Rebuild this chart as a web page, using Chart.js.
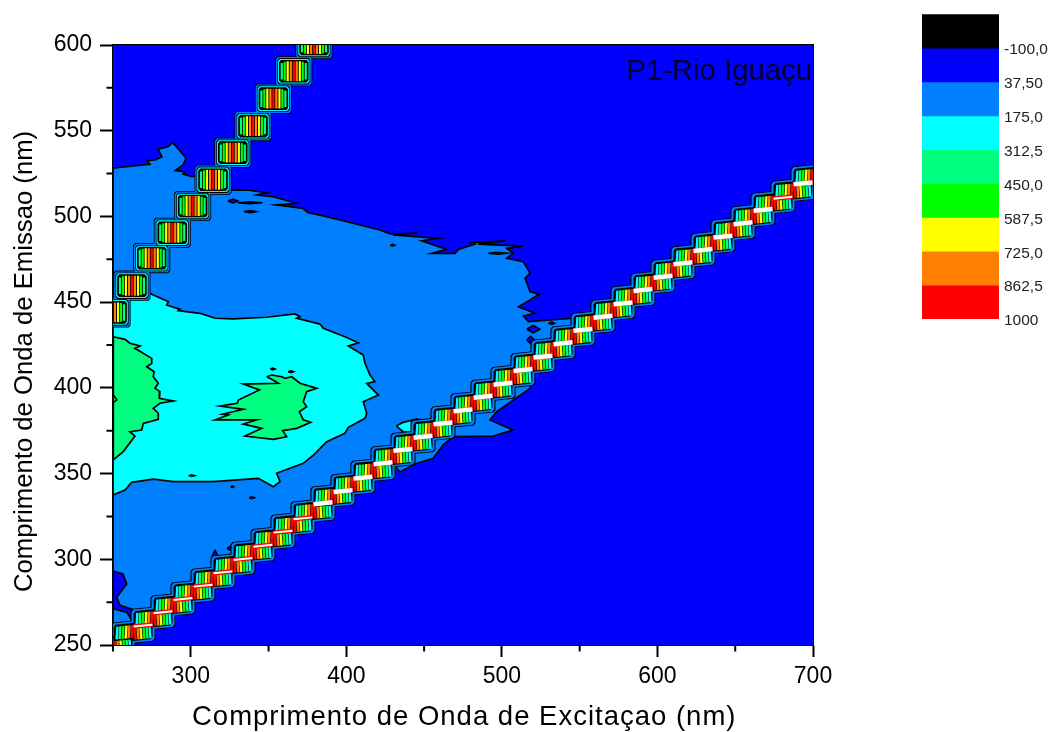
<!DOCTYPE html>
<html>
<head>
<meta charset="utf-8">
<title>P1-Rio Iguaçu</title>
<script src="https://cdn.jsdelivr.net/npm/chart.js@4"></script>
<style>
    body { margin: 0; background: #fff; }
    canvas { position: absolute; }
</style>
</head>
<body>
<canvas id="mapChart" width="1054" height="732" style="left:0;top:0"></canvas>
<canvas id="scaleChart" width="154" height="340" style="left:900px;top:0"></canvas>
<script>
// colour levels of the map, lowest first
const levelLabels = ['', '-100,0', '37,50', '175,0', '312,5', '450,0', '587,5', '725,0', '862,5', '1000'];
const levelColors = ['#000000', '#0000ff', '#0080ff', '#00ffff', '#00ff80', '#00ff00', '#ffff00', '#ff8000', '#ff0000'];

const excitationTicksMinor = [250, 350, 450, 550, 650];
const emissionTicksMinor = [275, 325, 375, 425, 475, 525, 575];

// contour lines: [excitation nm, emission nm]
const contour37 = [[250,528.1],[262.9,529.4],[273.8,530.4],[271.9,532.5],[277,532.9],[281.5,534.8],[278.9,539.2],[285.4,540.7],[288.4,543],[291.8,539.7],[296.9,533.9],[295,530],[289.9,526.7],[296.3,526.1],[295,524.7],[300.8,523.2],[305.9,524.2],[326.3,515.4],[336,515.4],[348.8,513.8],[342.4,512.5],[352.9,511.5],[368.1,507.7],[355.2,506.7],[372.1,504.7],[375.4,502.2],[383.1,500.8],[395.9,497.9],[421.6,492.1],[428.1,489.8],[445.2,490.2],[430,489.2],[459.1,487.2],[448.5,485.8],[464.5,480.8],[454.9,478.5],[469.9,478.5],[472,480.8],[482.7,483.9],[480.6,484.7],[502,485.8],[484.8,483.9],[513.4,482.7],[503.1,481.4],[507.3,478.5],[503.1,475.6],[513.8,473.6],[518.1,466.8],[514.9,463.9],[518.1,456.1],[524.1,454.7],[518.1,451.2],[510.6,447.3],[521.3,443.5],[513.8,441.9],[517,438.6],[545.9,440.6],[556.7,436.7],[518.1,411.6],[518.1,399.7],[496.7,386.1],[492.4,381.3],[507,375.4],[494.5,371.9],[468.8,371.5],[462.3,366.7],[455.9,358.9],[444.2,355.6],[434.5,350.9],[428,357.9],[269.3,261.7],[257.7,254.7],[250,250]];
const contour175 = [[250,451.2],[267.4,458.2],[275.9,454.2],[285.6,450.3],[284.5,448.3],[293.1,445.8],[292,445],[305.9,443.5],[315.6,440.6],[327.3,440.2],[348.8,441.2],[367,443.1],[370.2,441.5],[368.1,440.6],[383.1,437.2],[385.2,434.7],[399.1,429.8],[407.7,426.3],[401.3,424.4],[410.9,419.2],[412,414.3],[415.2,407.5],[418.4,403.6],[413.1,402.6],[420.6,395.8],[410.9,391.9],[413.1,385.1],[412,382.2],[401.3,377],[399.1,373.5],[387.4,368.6],[378.8,360.8],[372.3,356],[355.2,350.2],[357.4,345.3],[353.1,342.3],[343.4,347.2],[314.5,345.3],[288.8,345.3],[275.9,346.7],[262,344.9],[257.7,340.4],[250,337.5]];
const contour312Left = [[250.2,429.8],[257.7,428.3],[260.9,426],[267.4,424.4],[264.1,423.1],[274.9,417.2],[274.9,414.3],[271.7,412.3],[276.4,409.4],[275.9,406.5],[279.1,402.7],[277,399.7],[280.2,397.8],[279.8,393.9],[288.8,392.3],[280.2,391],[275.9,388.1],[279.1,385.2],[279.1,381.7],[269.5,379.3],[268.4,375.4],[260.9,374.4],[264.1,371.9],[256.6,362.8],[250,357.9]];
const contour312Mid = [[348.8,406.5],[352,407.5],[358.5,406.5],[360.6,405.6],[364.9,406.5],[370.2,402.7],[381,399.7],[374.5,397.8],[372.3,391.9],[374.5,389],[369.8,386.1],[372.3,381.3],[377.1,379.9],[368.1,376.4],[359.1,375],[361.6,371.5],[353.1,370],[334.9,371.9],[345.6,376.4],[333.8,378.9],[342.4,381.3],[315.6,381.3],[324.1,384.2],[320.5,384.6],[333.8,387.5],[318.8,389.4],[329.9,391],[330.6,392.9],[344.1,398.8],[333.8,402.2],[356.3,402.7],[352,405]];
const contour450Left = [[250,396],[252.5,393],[250,391.5]];
const contour175Patch = [[432.2,377.7],[436.5,379.9],[445,381.8],[449.3,381.3],[445,373.7],[436.5,374.4]];
const pocketLower = [[250,293.2],[256.4,291.4],[258.8,285.6],[252.4,277.8],[254.5,273.1],[263,270.6],[263,263],[259,269],[250,271.2]];

// small closed contours: centre and half sizes in nm
const holeX = [327.1, 338.1, 429.7, 497.3, 532, 520.2, 518.5, 315.6, 325.2, 275.5, 338.1];
const holeY = [509, 502.8, 483.2, 478.5, 437.7, 434.2, 427.9, 302.2, 306.4, 274.9, 508];
const holeRx = [3.2, 4, 1.6, 6, 2, 4.2, 2.6, 1.8, 1.8, 0.7, 8];
const holeRy = [1.2, 0.6, 0.6, 0.6, 0.7, 2.2, 2.2, 3, 1, 0.8, 0.6];
const speckX = [300.6, 326.7, 339.2, 352.7, 364.4];
const speckY = [348.8, 342.3, 335.9, 411, 409.4];
const speckRx = [2, 1, 1.7, 1.6, 1.8];
const speckRy = [0.5, 0.5, 0.5, 0.6, 0.5];

// second order scatter band, one box per step
const upperBoxX = [379.2, 366.2, 353.1, 340, 327, 314.3, 301.2, 288.1, 274.9, 262.2, 249.4];
const upperBoxY = [600.6, 584.7, 568.7, 552.7, 537.2, 521.4, 506.1, 490.5, 475.7, 459.6, 444];

// first order scatter band, one lobe per step
const lobeX = [250, 262.9, 275.7, 288.6, 301.4, 314.3, 327.1, 340, 352.9, 365.7, 378.6, 391.4, 404.3, 417.1, 430, 442.9, 455.7, 468.6, 481.4, 494.3, 507.1, 520, 532.9, 545.7, 558.6, 571.4, 584.3, 597.1, 610, 622.9, 635.7, 648.6, 661.4, 674.3, 687.1, 700];
const lobeY = [250, 257.6, 265.6, 273.4, 281.1, 288.9, 296.7, 304.5, 312.2, 320.4, 328.2, 337, 344.1, 351.9, 360.3, 368.1, 375.8, 383.6, 391.2, 399.1, 406.7, 414.7, 422.5, 430.3, 438.1, 445.8, 453.6, 461.4, 469.1, 477, 484.7, 492.5, 500.3, 508.1, 515.2, 523.6];

// saturated ridge between lobes
const ridgeX = [269.3, 282.1, 295, 307.9, 320.7, 333.6, 346.4, 359.3, 372.1, 385, 397.9, 410.7, 423.6, 436.4, 449.3, 462.1, 475, 487.9, 500.7, 513.6, 526.4, 539.3, 552.1, 565, 577.9, 590.7, 603.6, 616.4, 629.3, 642.1, 655, 667.9, 680.7, 693.6];
const ridgeY = [261.3, 269.1, 276.8, 284.6, 292.4, 300.2, 307.9, 316.1, 323.9, 332.7, 339.8, 347.6, 356, 363.8, 371.5, 379.3, 386.9, 394.8, 402.4, 410.4, 418.2, 426, 433.8, 441.5, 449.3, 457.1, 464.8, 472.7, 480.4, 488.2, 496, 503.8, 510.9, 519.3];
const ridgeThin = [0, 1, 2, 3, 4, 5, 6, 7, 8, 32];

const BLACK = levelColors[0], DEEP = levelColors[1], BLUE = levelColors[2], CYAN = levelColors[3];
const SPRING = levelColors[4], GREEN = levelColors[5], YELLOW = levelColors[6], ORANGE = levelColors[7], RED = levelColors[8];
const GAP = {x: NaN, y: NaN};

function toPoints(pairs) {
    const pts = pairs.map(p => ({x: p[0], y: p[1]}));
    pts.push(pts[0]);
    return pts;
}

function polygon(pairs, color, lineWidth) {
    return {
        data: toPoints(pairs),
        showLine: true,
        fill: 'shape',
        backgroundColor: color,
        borderColor: BLACK,
        borderWidth: lineWidth === undefined ? 1.7 : lineWidth,
        pointRadius: 0,
        clip: 0
    };
}

function strokes(points, color, width, clip) {
    return {
        data: points,
        showLine: true,
        fill: false,
        spanGaps: false,
        borderColor: color,
        borderWidth: width,
        borderCapStyle: 'butt',
        pointRadius: 0,
        clip: clip === undefined ? 0 : clip
    };
}

// box with cut corners, tilt is the rise per nm going right
function box(cx, cy, hw, hh, color, tilt) {
    const c = 1.3;
    const corners = [[-hw, -hh + c], [-hw, hh - c], [-hw + c, hh], [hw - c, hh], [hw, hh - c], [hw, -hh + c], [hw - c, -hh], [-hw + c, -hh]];
    return polygon(corners.map(p => [cx + p[0], cy + p[1] + p[0] * tilt]), color, 0);
}

function diamond(cx, cy, rx, ry, color) {
    return polygon([[cx - rx, cy], [cx, cy + ry], [cx + rx, cy], [cx, cy - ry]], color, 1.5);
}

const TILT = 0.09;
const datasets = [];

// plot background and contour fills, back to front
datasets.push(polygon([[250, 250], [700, 250], [700, 600], [250, 600]], DEEP, 0));
datasets.push(polygon(contour37, BLUE));
datasets.push(polygon(pocketLower, DEEP));
holeX.forEach((x, i) => datasets.push(diamond(x, holeY[i], holeRx[i], holeRy[i], DEEP)));
datasets.push(polygon(contour175, CYAN));
datasets.push(polygon(contour175Patch, CYAN));
speckX.forEach((x, i) => datasets.push(diamond(x, speckY[i], speckRx[i], speckRy[i], BLUE)));
datasets.push(polygon(contour312Left, SPRING));
datasets.push(polygon(contour312Mid, SPRING));
datasets.push(polygon(contour450Left, GREEN));

// second order band: nested boxes then vertical stripes
const upperLayers = [[11.9, 8.8, BLACK], [11.4, 8.3, BLUE], [10.6, 7.7, BLACK], [10.15, 7.2, CYAN], [9.5, 6.6, BLACK]];
upperLayers.forEach(l => {
    upperBoxX.forEach((x, i) => datasets.push(box(x, upperBoxY[i], l[0], l[1], l[2], 0)));
});
const upperStripes = [[0, 5.8, RED], [1.9, 5.8, ORANGE], [3.9, 5.8, YELLOW], [5.8, 5.5, GREEN], [7.7, 4.8, SPRING]];
upperStripes.forEach(s => {
    const pts = [];
    upperBoxX.forEach((x, i) => {
        pts.push({x: x - s[0], y: upperBoxY[i] - s[1]}, {x: x - s[0], y: upperBoxY[i] + s[1]}, GAP);
        pts.push({x: x + s[0], y: upperBoxY[i] - s[1]}, {x: x + s[0], y: upperBoxY[i] + s[1]}, GAP);
    });
    datasets.push(strokes(pts, s[2], 2.2));
});

// first order band: stacked lobes with slanted stripes
const lobeLayers = [[14.5, 6.7, BLACK], [13.8, 6.2, BLUE], [12.5, 5.25, BLACK]];
lobeLayers.forEach(l => {
    lobeX.forEach((x, i) => datasets.push(box(x, lobeY[i], l[0], l[1], l[2], TILT)));
});
const lobeStripes = [[1, RED], [2.9, ORANGE], [4.8, YELLOW], [6.75, GREEN], [8.7, SPRING], [10.6, CYAN]];
lobeStripes.forEach(s => {
    const pts = [];
    lobeX.forEach((x, i) => {
        const left = lobeY[i] + 0.6 - s[0] * TILT;
        const right = lobeY[i] - 1.2 + s[0] * TILT;
        pts.push({x: x - s[0], y: left - 4}, {x: x - s[0] + 0.6, y: left + 3.5}, GAP);
        pts.push({x: x + s[0], y: right + 3.4}, {x: x + s[0] + 0.6, y: right - 3.4}, GAP);
    });
    datasets.push(strokes(pts, s[1], 2.4));
});

const ridgeWide = [], ridgeNarrow = [], ridgeBack = [];
ridgeX.forEach((x, i) => {
    const seg = [{x: x - 6.1, y: ridgeY[i] - 0.55}, {x: x + 6.1, y: ridgeY[i] + 0.55}, GAP];
    ridgeBack.push(...seg);
    (ridgeThin.includes(i) ? ridgeNarrow : ridgeWide).push(...seg);
});
datasets.push(strokes(ridgeBack, RED, 4.5));
datasets.push(strokes(ridgeWide, '#ffffff', 4.5));
datasets.push(strokes(ridgeNarrow, '#ffffff', 2));

// short ticks between the labelled ones
const minorTicks = [];
excitationTicksMinor.forEach(x => minorTicks.push({x: x, y: 250}, {x: x, y: 246.2}, GAP));
emissionTicksMinor.forEach(y => minorTicks.push({x: 250, y: y}, {x: 245.8, y: y}, GAP));
datasets.push(strokes(minorTicks, BLACK, 2, false));

// painter's order: later entries on top
datasets.forEach((d, i) => { d.order = datasets.length - i; });

// axis titles sit off-centre and spaced out in the original, so they are placed by hand
const plotTexts = {
    id: 'plotTexts',
    afterDraw(chart) {
        const ctx = chart.ctx;
        ctx.save();
        ctx.fillStyle = '#000030';
        ctx.textAlign = 'right';
        ctx.font = '29.3px "Liberation Sans"';
        ctx.fillText('P1-Rio Iguaçu', chart.chartArea.right - 1, 80);

        ctx.fillStyle = BLACK;
        ctx.textAlign = 'left';
        ctx.font = '27.5px "Liberation Sans"';
        ctx.letterSpacing = '1px';
        ctx.fillText('Comprimento de Onda de Excitaçao (nm)', 192, 725);

        ctx.letterSpacing = '0px';
        ctx.font = '25.7px "Liberation Sans"';
        ctx.translate(32, 592);
        ctx.rotate(-Math.PI / 2);
        ctx.fillText('Comprimento de Onda de Emissao (nm)', 0, 0);
        ctx.restore();
    }
};

function frameAxis(position) {
    const horizontal = position === 'top';
    return {
        type: 'linear',
        position: position,
        min: 250,
        max: horizontal ? 700 : 600,
        z: 1,
        ticks: {display: false},
        grid: {drawOnChartArea: false, drawTicks: false},
        border: {color: BLACK, width: 2},
        afterFit(scale) {
            if (horizontal) scale.height = 0; else scale.width = 0;
        }
    };
}

new Chart(document.getElementById('mapChart'), {
    type: 'scatter',
    data: {datasets: datasets},
    plugins: [plotTexts],
    options: {
        responsive: false,
        animation: false,
        events: [],
        layout: {padding: {left: 0, top: 45, right: 241, bottom: 0}},
        plugins: {legend: {display: false}, tooltip: {enabled: false}},
        scales: {
            x: {
                type: 'linear',
                min: 250,
                max: 700,
                z: 1,
                afterFit(scale) { scale.height = 87; },
                ticks: {
                    stepSize: 100,
                    autoSkip: false,
                    maxRotation: 0,
                    color: BLACK,
                    padding: 6,
                    font: {family: '"Liberation Sans"', size: 23},
                    callback: v => (v === 250 ? '' : String(v))
                },
                grid: {
                    drawOnChartArea: false,
                    tickLength: 12,
                    tickWidth: 2,
                    tickColor: c => (c.tick && c.tick.value === 250 ? 'transparent' : BLACK)
                },
                border: {color: BLACK, width: 2}
            },
            y: {
                type: 'linear',
                min: 250,
                max: 600,
                z: 1,
                afterFit(scale) { scale.width = 113; },
                ticks: {
                    stepSize: 50,
                    autoSkip: false,
                    color: BLACK,
                    padding: 8,
                    font: {family: '"Liberation Sans"', size: 23},
                    callback: v => String(v)
                },
                grid: {drawOnChartArea: false, tickLength: 13, tickWidth: 2, tickColor: BLACK},
                border: {color: BLACK, width: 2}
            },
            xTop: frameAxis('top'),
            yRight: frameAxis('right')
        }
    }
});

// colour scale on the right, labels sit just under each band edge
new Chart(document.getElementById('scaleChart'), {
    type: 'bar',
    data: {
        labels: [''],
        datasets: levelColors.map(c => ({data: [1], backgroundColor: c, barPercentage: 1, categoryPercentage: 1}))
    },
    options: {
        responsive: false,
        animation: false,
        events: [],
        layout: {padding: {left: 22, top: 13, right: 0, bottom: 21}},
        plugins: {legend: {display: false}, tooltip: {enabled: false}},
        scales: {
            x: {display: false, stacked: true},
            y: {display: false, stacked: true, reverse: true, min: 0, max: 9},
            labels: {
                type: 'linear',
                position: 'right',
                reverse: true,
                min: -0.06,
                max: 8.94,
                afterFit(scale) { scale.width = 55; },
                afterBuildTicks(scale) { scale.ticks = [1, 2, 3, 4, 5, 6, 7, 8, 9].map(v => ({value: v})); },
                ticks: {
                    autoSkip: false,
                    color: '#222222',
                    padding: 5,
                    font: {family: '"Liberation Sans"', size: 15.5},
                    callback: v => levelLabels[v]
                },
                grid: {display: false, drawTicks: false},
                border: {display: false}
            }
        }
    }
});
</script>
</body>
</html>
